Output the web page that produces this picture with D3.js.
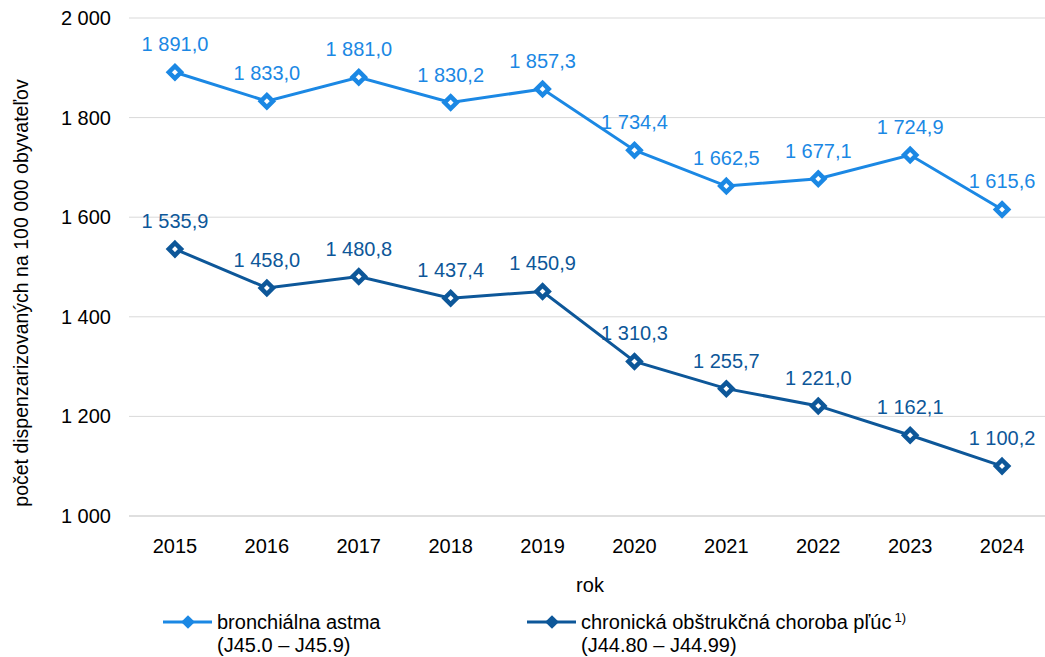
<!DOCTYPE html>
<html>
<head>
<meta charset="utf-8">
<script src="https://cdn.jsdelivr.net/npm/d3@7"></script>
<style>
  body { margin: 0; background: #fff; }
  svg text { font-family: "Liberation Sans", Arial, sans-serif; }
</style>
</head>
<body>
<svg id="chart" width="1045" height="657"></svg>
<script>
// data
const years = ["2015", "2016", "2017", "2018", "2019", "2020", "2021", "2022", "2023", "2024"];
const astma = [1891.0, 1833.0, 1881.0, 1830.2, 1857.3, 1734.4, 1662.5, 1677.1, 1724.9, 1615.6];
const chopn = [1535.9, 1458.0, 1480.8, 1437.4, 1450.9, 1310.3, 1255.7, 1221.0, 1162.1, 1100.2];
const yTicks = [1000, 1200, 1400, 1600, 1800, 2000];

const series = [
    { name: "bronchiálna astma", sub: "(J45.0 – J45.9)", values: astma, color: "#1b88e4" },
    { name: "chronická obštrukčná choroba pľúc", sup: "1)", sub: "(J44.80 – J44.99)", values: chopn, color: "#0d5799" }
];

const svg = d3.select("#chart");
const plotLeft = 129, plotRight = 1048, plotTop = 18, plotBottom = 516;
const fs = 20;

const x = d3.scaleBand().domain(years).range([plotLeft, plotRight]);
const y = d3.scaleLinear().domain([1000, 2000]).range([plotBottom, plotTop]);

// formát: medzera ako oddeľovač tisícov, čiarka ako desatinná
const fmtTick = v => d3.format(",")(v).replace(/,/g, " ");
const fmtVal = v => d3.format(",.1f")(v).replace(/,/g, " ").replace(".", ",");

// gridlines
svg.append("g").selectAll("line")
    .data(yTicks)
    .join("line")
    .attr("x1", plotLeft).attr("x2", plotRight)
    .attr("y1", d => y(d)).attr("y2", d => y(d))
    .attr("stroke", d => d === 1000 ? "#bfbfbf" : "#d9d9d9")
    .attr("stroke-width", 1);

// y tick labels
svg.append("g").selectAll("text")
    .data(yTicks)
    .join("text")
    .attr("x", 111).attr("y", d => y(d))
    .attr("dy", "0.35em")
    .attr("text-anchor", "end")
    .attr("font-size", fs)
    .attr("fill", "#000")
    .text(fmtTick);

// x labels
svg.append("g").selectAll("text")
    .data(years)
    .join("text")
    .attr("x", d => x(d) + x.bandwidth() / 2)
    .attr("y", 553)
    .attr("text-anchor", "middle")
    .attr("font-size", fs)
    .text(d => d);

// axis titles
svg.append("text")
    .attr("x", 590).attr("y", 592)
    .attr("text-anchor", "middle")
    .attr("font-size", fs)
    .text("rok");

svg.append("text")
    .attr("transform", "translate(28,293) rotate(-90)")
    .attr("text-anchor", "middle")
    .attr("font-size", 19.5)
    .text("počet dispenzarizovaných na 100 000 obyvateľov");

const cx = i => x(years[i]) + x.bandwidth() / 2;
const diamond = d3.symbol().type(d3.symbolDiamond2).size(95);

series.forEach(s => {
    const g = svg.append("g");
    g.append("path")
        .datum(s.values)
        .attr("fill", "none")
        .attr("stroke", s.color)
        .attr("stroke-width", 3)
        .attr("d", d3.line().x((d, i) => cx(i)).y(d => y(d)));

    g.selectAll("path.marker")
        .data(s.values)
        .join("path")
        .attr("class", "marker")
        .attr("transform", (d, i) => `translate(${cx(i)},${y(d)})`)
        .attr("d", diamond)
        .attr("fill", "#fff")
        .attr("stroke", s.color)
        .attr("stroke-width", 4.5);

    g.selectAll("text")
        .data(s.values)
        .join("text")
        .attr("x", (d, i) => cx(i))
        .attr("y", d => y(d) - 21)
        .attr("text-anchor", "middle")
        .attr("font-size", fs)
        .attr("fill", s.color)
        .text(fmtVal);
});

// legend
const legendX = [163, 527];
series.forEach((s, i) => {
    const lg = svg.append("g").attr("transform", `translate(${legendX[i]},622)`);
    lg.append("line").attr("x1", 0).attr("x2", 49)
        .attr("stroke", s.color).attr("stroke-width", 3);
    lg.append("path").attr("transform", "translate(25,0)")
        .attr("d", d3.symbol().type(d3.symbolDiamond2).size(120))
        .attr("fill", s.color);
    const t = lg.append("text").attr("x", 54).attr("y", 7).attr("font-size", fs);
    t.append("tspan").text(s.name);
    if (s.sup) {
        t.append("tspan").attr("font-size", 13).attr("dx", 3).attr("dy", -7).text(s.sup);
    }
    lg.append("text").attr("x", 54).attr("y", 30).attr("font-size", fs).text(s.sub);
});
</script>
</body>
</html>
